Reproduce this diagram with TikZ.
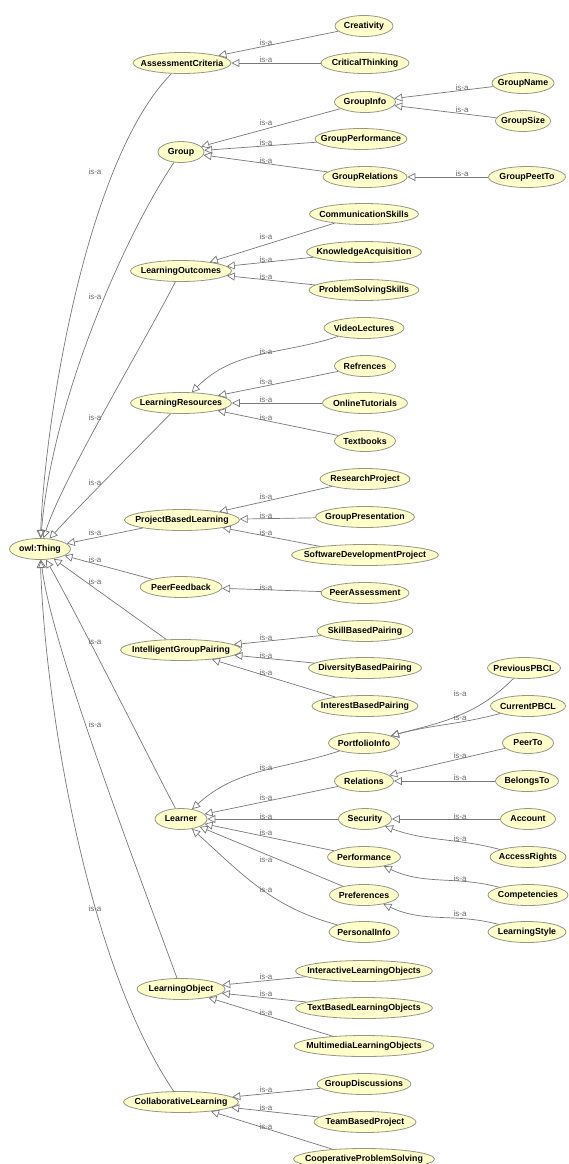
\documentclass[tikz,border=0pt]{standalone}
\usepackage{fontspec}
\usetikzlibrary{shapes.geometric,arrows.meta}
\newfontfamily\ndfam{Liberation Sans}
\newcommand\ndfont{\ndfam\bfseries\fontsize{8.8}{10}\selectfont}
\newcommand\lbfont{\ndfam\fontsize{8}{9}\selectfont}
\definecolor{nodefill}{RGB}{255,255,204}
\definecolor{nodeborder}{RGB}{150,150,130}
\definecolor{edgegray}{RGB}{120,120,120}
\definecolor{labgray}{RGB}{105,105,105}
\tikzset{
  cls/.style={ellipse, draw=nodeborder, fill=nodefill, line width=0.8pt,
    inner xsep=-12pt, inner ysep=0pt, minimum height=21pt, minimum width=#1,
    font=\ndfont, text=black},
  isa/.style={draw=edgegray, line width=0.7pt, -{Triangle[open, length=8pt, width=8pt]}},
  lab/.style={font=\lbfont, text=labgray, inner sep=0pt},
}
\begin{document}
\begin{tikzpicture}[x=1pt,y=-1pt]
\useasboundingbox (0,0) rectangle (568,1164);
% ---------- nodes ----------
\node[cls=61pt] (owl) at (40,549) {owl:Thing};
\node[cls=98pt] (AC) at (182,63) {AssessmentCriteria};
\node[cls=58pt] (Creativity) at (364,26) {Creativity};
\node[cls=88pt] (CriticalThinking) at (365,63) {CriticalThinking};
\node[cls=46pt] (Group) at (181,152) {Group};
\node[cls=61pt] (GroupInfo) at (365,102) {GroupInfo};
\node[cls=62pt] (GroupName) at (523,83) {GroupName};
\node[cls=55pt] (GroupSize) at (523,121) {GroupSize};
\node[cls=92pt] (GroupPerformance) at (361,139) {GroupPerformance};
\node[cls=84pt] (GroupRelations) at (365,177) {GroupRelations};
\node[cls=77pt] (GroupPeetTo) at (527,177) {GroupPeetTo};
\node[cls=101pt] (LO) at (181,271) {LearningOutcomes};
\node[cls=109pt] (CommunicationSkills) at (364,214) {CommunicationSkills};
\node[cls=115pt] (KnowledgeAcquisition) at (364,252) {KnowledgeAcquisition};
\node[cls=110pt] (ProblemSolvingSkills) at (364,290) {ProblemSolvingSkills};
\node[cls=101pt] (LR) at (181,403) {LearningResources};
\node[cls=80pt] (VideoLectures) at (364,328) {VideoLectures};
\node[cls=61pt] (Refrences) at (365,366) {Refrences};
\node[cls=85pt] (OnlineTutorials) at (365,403) {OnlineTutorials};
\node[cls=61pt] (Textbooks) at (365,441) {Textbooks};
\node[cls=115pt] (PBL) at (182,520) {ProjectBasedLearning};
\node[cls=90pt] (ResearchProject) at (365,479) {ResearchProject};
\node[cls=99pt] (GroupPresentation) at (365,517) {GroupPresentation};
\node[cls=147pt] (SDP) at (365,555) {SoftwareDevelopmentProject};
\node[cls=82pt] (PF) at (181,587) {PeerFeedback};
\node[cls=88pt] (PeerAssessment) at (365,593) {PeerAssessment};
\node[cls=121pt] (IGP) at (181,650) {IntelligentGroupPairing};
\node[cls=96pt] (SkillBasedPairing) at (365,631) {SkillBasedPairing};
\node[cls=113pt] (DiversityBasedPairing) at (365,668) {DiversityBasedPairing};
\node[cls=106pt] (InterestBasedPairing) at (365,706) {InterestBasedPairing};
\node[cls=52pt] (Learner) at (181,819) {Learner};
\node[cls=71pt] (PortfolioInfo) at (364,743) {PortfolioInfo};
\node[cls=73pt] (PreviousPBCL) at (524,668) {PreviousPBCL};
\node[cls=75pt] (CurrentPBCL) at (528,706) {CurrentPBCL};
\node[cls=59pt] (Relations) at (364,781) {Relations};
\node[cls=51pt] (PeerTo) at (528,743) {PeerTo};
\node[cls=63pt] (BelongsTo) at (527,781) {BelongsTo};
\node[cls=53pt] (Security) at (365,819) {Security};
\node[cls=55pt] (Account) at (528,819) {Account};
\node[cls=73pt] (Performance) at (364,857) {Performance};
\node[cls=76pt] (AccessRights) at (528,857) {AccessRights};
\node[cls=69pt] (Preferences) at (364,895) {Preferences};
\node[cls=80pt] (Competencies) at (528,895) {Competencies};
\node[cls=70pt] (PersonalInfo) at (364,932) {PersonalInfo};
\node[cls=78pt] (LearningStyle) at (527,932) {LearningStyle};
\node[cls=88pt] (LObj) at (181,989) {LearningObject};
\node[cls=137pt] (ILO) at (364,971) {InteractiveLearningObjects};
\node[cls=137pt] (TBLO) at (364,1008) {TextBasedLearningObjects};
\node[cls=140pt] (MLO) at (364,1046) {MultimediaLearningObjects};
\node[cls=115pt] (CL) at (181,1102) {CollaborativeLearning};
\node[cls=94pt] (GroupDiscussions) at (364,1084) {GroupDiscussions};
\node[cls=102pt] (TeamBasedProject) at (365,1122) {TeamBasedProject};
\node[cls=141pt] (CPS) at (364,1159) {CooperativeProblemSolving};
% ---------- top-level edges ----------
\draw[isa] (AC) .. controls (86,160) and (45,420) .. (owl);
\draw[isa] (Group) .. controls (125,235) and (52,400) .. (owl);
\draw[isa] (LO) .. controls (140,350) and (62,480) .. (owl);
\draw[isa] (LR) .. controls (140,445) and (80,505) .. (owl);
\draw[isa] (PBL) -- (owl);
\draw[isa] (PF) -- (owl);
\draw[isa] (IGP) -- (owl);
\draw[isa] (Learner) .. controls (150,760) and (80,620) .. (owl);
\draw[isa] (LObj) .. controls (130,850) and (50,640) .. (owl);
\draw[isa] (CL) .. controls (85,960) and (45,700) .. (owl);
\node[lab] (l1) at (95,172) {is-a};
\node[lab] (l2) at (95,297) {is-a};
\node[lab] (l3) at (95,418) {is-a};
\node[lab] (l4) at (95,483) {is-a};
\node[lab] (l5) at (95,533) {is-a};
\node[lab] (l6) at (95,560) {is-a};
\node[lab] (l7) at (95,582) {is-a};
\node[lab] (l8) at (95,642) {is-a};
\node[lab] (l9) at (95,725) {is-a};
\node[lab] (l10) at (95,909) {is-a};
% ---------- second level ----------
\draw[isa] (Creativity) -- (AC);
\draw[isa] (CriticalThinking) -- (AC);
\node[lab] (a1) at (266,43) {is-a};
\node[lab] (a2) at (266,60) {is-a};
\draw[isa] (GroupInfo) -- (Group);
\draw[isa] (GroupPerformance) -- (Group);
\draw[isa] (GroupRelations) -- (Group);
\node[lab] (g1) at (266,123) {is-a};
\node[lab] (g2) at (266,143) {is-a};
\node[lab] (g3) at (266,161) {is-a};
\draw[isa] (GroupName) -- (GroupInfo);
\draw[isa] (GroupSize) -- (GroupInfo);
\draw[isa] (GroupPeetTo) -- (GroupRelations);
\node[lab] (g4) at (462,88) {is-a};
\node[lab] (g5) at (462,110) {is-a};
\node[lab] (g6) at (462,174) {is-a};
\draw[isa] (CommunicationSkills) -- (LO);
\draw[isa] (KnowledgeAcquisition) -- (LO);
\draw[isa] (ProblemSolvingSkills) -- (LO);
\node[lab] (o1) at (266,237) {is-a};
\node[lab] (o2) at (266,260) {is-a};
\node[lab] (o3) at (266,277) {is-a};
\draw[isa] (VideoLectures) to[out=198, in=45] (LR);
\draw[isa] (Refrences) -- (LR);
\draw[isa] (OnlineTutorials) -- (LR);
\draw[isa] (Textbooks) -- (LR);
\node[lab] (r1) at (266,352) {is-a};
\node[lab] (r2) at (266,382) {is-a};
\node[lab] (r3) at (266,400) {is-a};
\node[lab] (r4) at (266,418) {is-a};
\draw[isa] (ResearchProject) -- (PBL);
\draw[isa] (GroupPresentation) -- (PBL);
\draw[isa] (SDP) -- (PBL);
\node[lab] (p1) at (266,497) {is-a};
\node[lab] (p2) at (266,516) {is-a};
\node[lab] (p3) at (266,533) {is-a};
\draw[isa] (PeerAssessment) -- (PF);
\node[lab] (f1) at (266,588) {is-a};
\draw[isa] (SkillBasedPairing) -- (IGP);
\draw[isa] (DiversityBasedPairing) -- (IGP);
\draw[isa] (InterestBasedPairing) -- (IGP);
\node[lab] (i1) at (266,638) {is-a};
\node[lab] (i2) at (266,656) {is-a};
\node[lab] (i3) at (266,673) {is-a};
\draw[isa] (PortfolioInfo) to[out=198, in=42] (Learner);
\draw[isa] (Relations) -- (Learner);
\draw[isa] (Security) -- (Learner);
\draw[isa] (Performance) -- (Learner);
\draw[isa] (Preferences) -- (Learner);
\draw[isa] (PersonalInfo) to[out=165, in=-42] (Learner);
\node[lab] (e1) at (266,768) {is-a};
\node[lab] (e2) at (266,798) {is-a};
\node[lab] (e3) at (266,817) {is-a};
\node[lab] (e4) at (266,833) {is-a};
\node[lab] (e5) at (266,860) {is-a};
\node[lab] (e6) at (266,890) {is-a};
\draw[isa] (PreviousPBCL) to[out=225, in=15] (PortfolioInfo);
\draw[isa] (CurrentPBCL) to[out=195, in=15] (PortfolioInfo);
\draw[isa] (PeerTo) -- (Relations);
\draw[isa] (BelongsTo) -- (Relations);
\draw[isa] (Account) -- (Security);
\draw[isa] (AccessRights) to[out=165, in=-20] (Security);
\draw[isa] (Competencies) to[out=165, in=-25] (Performance);
\draw[isa] (LearningStyle) to[out=165, in=-25] (Preferences);
\node[lab] (s1) at (460,694) {is-a};
\node[lab] (s2) at (460,718) {is-a};
\node[lab] (s3) at (460,756) {is-a};
\node[lab] (s4) at (460,778) {is-a};
\node[lab] (s5) at (460,817) {is-a};
\node[lab] (s6) at (460,839) {is-a};
\node[lab] (s7) at (460,879) {is-a};
\node[lab] (s8) at (460,914) {is-a};
\draw[isa] (ILO) -- (LObj);
\draw[isa] (TBLO) -- (LObj);
\draw[isa] (MLO) -- (LObj);
\node[lab] (b1) at (266,977) {is-a};
\node[lab] (b2) at (266,994) {is-a};
\node[lab] (b3) at (266,1013) {is-a};
\draw[isa] (GroupDiscussions) -- (CL);
\draw[isa] (TeamBasedProject) -- (CL);
\draw[isa] (CPS) -- (CL);
\node[lab] (c1) at (266,1090) {is-a};
\node[lab] (c2) at (266,1108) {is-a};
\node[lab] (c3) at (266,1127) {is-a};
\end{tikzpicture}
\end{document}
